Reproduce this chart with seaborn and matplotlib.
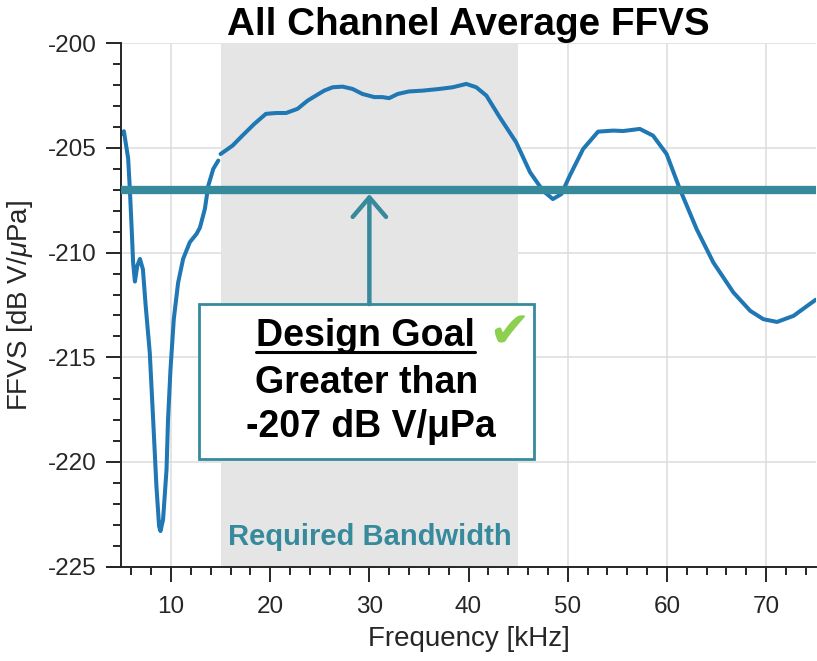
import numpy as np
import pandas as pd
import matplotlib
matplotlib.use("Agg")
import matplotlib.pyplot as plt
from matplotlib.lines import Line2D
from matplotlib.patches import Rectangle
import seaborn as sns

# Measured response below the required band (kHz, dB re 1 V/uPa)
freq_low = [5.0, 5.25, 5.68, 5.85, 6.02, 6.18, 6.36, 6.6, 6.87, 7.17, 7.44, 7.86,
            8.2, 8.53, 8.8, 8.94, 9.2, 9.55, 9.7, 9.95, 10.28, 10.72, 11.22, 11.9,
            12.58, 12.92, 13.42, 13.76, 14.26, 14.77]
ffvs_low = [-204.33, -204.2, -205.5, -206.96, -208.7, -210.47, -211.38, -210.63,
            -210.3, -210.8, -212.5, -214.78, -217.97, -221.16, -223.07, -223.3,
            -222.75, -220.36, -217.97, -215.57, -213.18, -211.43, -210.3, -209.5,
            -209.1, -208.8, -207.9, -206.8, -206.0, -205.6]

# Measured response from the band edge upward
freq_high = [15.0, 16.2, 17.2, 18.4, 19.57, 20.6, 21.6, 22.76, 23.77, 24.6, 25.45,
             26.3, 27.3, 28.3, 29.3, 30.5, 31.3, 32.0, 32.86, 34.0, 35.4, 37.07,
             38.4, 39.77, 40.78, 41.8, 43.1, 44.8, 46.2, 47.5, 48.5, 49.36, 50.2,
             51.55, 53.06, 54.58, 55.6, 57.27, 58.6, 59.97, 61.3, 63.0, 64.68,
             66.7, 68.4, 69.73, 71.1, 72.76, 75.0]
ffvs_high = [-205.29, -204.89, -204.41, -203.85, -203.37, -203.33, -203.33, -203.13,
             -202.74, -202.5, -202.26, -202.1, -202.07, -202.18, -202.42, -202.57,
             -202.57, -202.62, -202.42, -202.3, -202.26, -202.18, -202.1, -201.94,
             -202.1, -202.5, -203.5, -204.73, -206.16, -207.04, -207.44, -207.2,
             -206.33, -205.05, -204.22, -204.17, -204.19, -204.09, -204.41, -205.29,
             -206.96, -208.88, -210.47, -211.9, -212.78, -213.18, -213.31, -213.02,
             -212.25]

design_goal = -207
band = (15, 45)
x_ticks = [10, 20, 30, 40, 50, 60, 70]
y_ticks = [-225, -220, -215, -210, -205, -200]

title = "All Channel Average FFVS"
x_label = "Frequency [kHz]"
y_label = r"FFVS [dB V/$\mu$Pa]"
goal_lines = ["Design Goal", "Greater than", "-207 dB V/μPa"]
band_label = "Required Bandwidth"

blue = "#1f77b4"
teal = "#368a9b"
green = "#8dcf4e"
ink = "#262626"

sns.set_style("ticks")
plt.rcParams["font.family"] = ["Liberation Sans", "DejaVu Sans"]
plt.rcParams["axes.unicode_minus"] = False
plt.rcParams["mathtext.fontset"] = "custom"
plt.rcParams["mathtext.rm"] = "Liberation Sans"
plt.rcParams["mathtext.it"] = "Liberation Sans:italic"

df_low = pd.DataFrame({"freq": freq_low, "ffvs": ffvs_low})
df_high = pd.DataFrame({"freq": freq_high, "ffvs": ffvs_high})

fig = plt.figure(figsize=(8.17, 6.61), dpi=100)
ax = fig.add_axes([0.1486, 0.1427, 0.8498, 0.7918])

# Grid underneath, shaded band on top of the grid
ax.set_axisbelow(True)
ax.grid(True, which="major", color="#dcdcdc", lw=1.1)
ax.axvspan(*band, color="#e5e5e5", lw=0, zorder=1)

line_kw = dict(ax=ax, color=blue, lw=2.9, estimator=None, sort=False, zorder=2)
sns.lineplot(data=df_low, x="freq", y="ffvs", **line_kw)
sns.lineplot(data=df_high, x="freq", y="ffvs", **line_kw)
for ln in ax.get_lines():
    ln.set_solid_joinstyle("round")
    ln.set_solid_capstyle("round")

ax.axhline(design_goal, color=teal, lw=6, zorder=3)

ax.set_xlim(5, 75)
ax.set_ylim(-225, -200)
ax.set_xticks(x_ticks)
ax.set_yticks(y_ticks)
ax.set_xticks(np.arange(6, 76, 2), minor=True)
ax.set_yticks(np.arange(-225, -199, 1), minor=True)
ax.tick_params(which="major", direction="out", length=10.8, width=1.4,
               color=ink, labelsize=17.5, labelcolor=ink, pad=7)
ax.tick_params(axis="x", which="major", pad=10)
ax.tick_params(which="minor", direction="out", length=5.8, width=1.4, color=ink)
for side in ("top", "right"):
    ax.spines[side].set_visible(False)
for side in ("left", "bottom"):
    ax.spines[side].set_linewidth(1.4)
    ax.spines[side].set_color(ink)
ax.spines["bottom"].set_bounds(3.5, 75)

ax.set_xlabel(x_label, fontsize=20, color=ink, labelpad=6)
ax.set_ylabel(y_label, fontsize=20, color=ink, labelpad=9)
ax.set_title(title, fontsize=27.8, fontweight="bold", color="black", pad=5)

# Annotation box with the design goal
box = Rectangle((12.78, -219.88), 33.8, 7.42, facecolor="white",
                edgecolor=teal, lw=2, zorder=4)
ax.add_patch(box)
ax.annotate("", xy=(30, design_goal - 0.2), xytext=(30, -212.46),
            arrowprops=dict(arrowstyle="->,head_length=0.7,head_width=0.6",
                            color=teal, lw=3.2, shrinkA=0, shrinkB=0,
                            mutation_scale=20),
            zorder=4)

t_head = ax.text(29.64, -214.0, goal_lines[0], fontsize=27, fontweight="bold",
                 ha="center", va="center", color="black", zorder=5)
ax.text(29.75, -216.25, goal_lines[1], fontsize=27, fontweight="bold",
        ha="center", va="center", color="black", zorder=5)
ax.text(30.2, -218.35, goal_lines[2], fontsize=27, fontweight="bold",
        ha="center", va="center", color="black", zorder=5)
ax.text(44.1, -213.85, "✔", fontsize=36, ha="center", va="center",
        color=green, family=["DejaVu Sans"], zorder=5)

ax.text(30.0, -223.6, band_label, fontsize=21, fontweight="bold",
        ha="center", va="center", color=teal, zorder=5)

# Underline the heading using its rendered extent
fig.canvas.draw()
bb = t_head.get_window_extent().transformed(fig.transFigure.inverted())
uy = bb.y0 + 0.004
fig.add_artist(Line2D([bb.x0, bb.x1], [uy, uy], color="black", lw=2.2,
                      transform=fig.transFigure, zorder=6))

fig.savefig("out.png", dpi=100)
